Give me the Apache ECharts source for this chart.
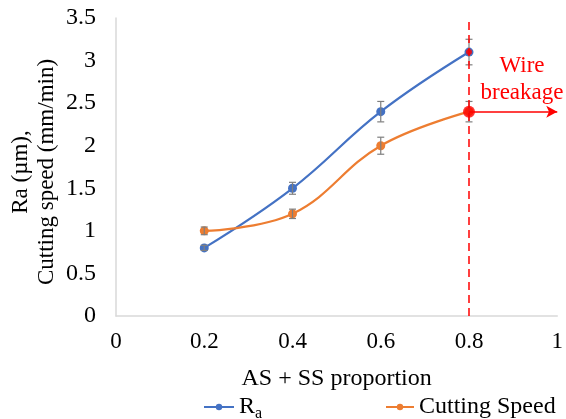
<!DOCTYPE html>
<html>
<head>
<meta charset="utf-8">
<script src="https://cdn.jsdelivr.net/npm/echarts@6/dist/echarts.min.js"></script>
<style>
  html, body { margin: 0; padding: 0; background: #fff; }
  #chart { width: 566px; height: 419px; }
</style>
</head>
<body>
<div id="chart"></div>
<script>
var proportions = [0.2, 0.4, 0.6, 0.8];
var raValues = [0.8, 1.5, 2.4, 3.1];
var raErrors = [0.03, 0.07, 0.12, 0.15];
var speedValues = [1.0, 1.2, 2.0, 2.4];
var speedErrors = [0.045, 0.055, 0.1, 0.12];
var breakIndex = 3;

var font = '"Liberation Serif", "Times New Roman", serif';
var chart = echarts.init(document.getElementById('chart'));

function pairs(vals) {
    return proportions.map(function (x, i) { return [x, vals[i]]; });
}
function errData(vals, errs) {
    return proportions.map(function (x, i) { return [x, vals[i] - errs[i], vals[i] + errs[i]]; });
}
function renderError(params, api) {
    var lo = api.coord([api.value(0), api.value(1)]);
    var hi = api.coord([api.value(0), api.value(2)]);
    var w = 3.5;
    var st = { stroke: '#7f7f7f', lineWidth: 1.2 };
    return {
        type: 'group',
        children: [
            { type: 'line', shape: { x1: lo[0], y1: lo[1], x2: hi[0], y2: hi[1] }, style: st },
            { type: 'line', shape: { x1: lo[0] - w, y1: lo[1], x2: lo[0] + w, y2: lo[1] }, style: st },
            { type: 'line', shape: { x1: hi[0] - w, y1: hi[1], x2: hi[0] + w, y2: hi[1] }, style: st }
        ]
    };
}

var legendText = { fontFamily: font, fontSize: 24, color: '#000' };

var option = {
    animation: false,
    textStyle: { fontFamily: font },
    grid: { left: 116, right: 8, top: 18, bottom: 103 },
    legend: [{
        left: 198, top: 390,
        itemWidth: 30, itemHeight: 8,
        data: ['Ra'],
        formatter: function () { return 'R{sub|a}'; },
        textStyle: {
            fontFamily: font, fontSize: 24, color: '#000',
            rich: { sub: { fontFamily: font, fontSize: 16, color: '#000', verticalAlign: 'bottom', padding: [14, 0, 0, 0] } }
        }
    }, {
        left: 380, top: 390,
        itemWidth: 28, itemHeight: 8,
        data: ['Cutting Speed'],
        textStyle: legendText
    }],
    xAxis: {
        type: 'value',
        min: 0, max: 1, interval: 0.2,
        name: 'AS + SS proportion',
        nameLocation: 'middle',
        nameGap: 51,
        nameTextStyle: { fontFamily: font, fontSize: 24, color: '#000' },
        axisLine: { lineStyle: { color: '#d9d9d9', width: 1.5 } },
        axisTick: { show: false },
        splitLine: { show: false },
        axisLabel: {
            fontFamily: font, fontSize: 23, color: '#000', margin: 14,
            formatter: function (v) { return String(+v.toFixed(1)); }
        }
    },
    yAxis: {
        type: 'value',
        min: 0, max: 3.5, interval: 0.5,
        axisLine: { show: true, lineStyle: { color: '#d9d9d9', width: 1.5 } },
        axisTick: { show: false },
        splitLine: { show: false },
        axisLabel: { fontFamily: font, fontSize: 24, color: '#000', margin: 20 }
    },
    graphic: [{
        type: 'text',
        x: 34,
        y: 172,
        rotation: Math.PI / 2,
        style: {
            text: 'Ra (µm),\nCutting speed (mm/min)',
            font: '23px ' + font,
            fill: '#000',
            align: 'center',
            verticalAlign: 'middle',
            lineHeight: 26
        }
    }, {
        type: 'text',
        x: 522,
        y: 52,
        style: {
            text: 'Wire\nbreakage',
            font: '23px ' + font,
            fill: '#ff0000',
            align: 'center',
            verticalAlign: 'top',
            lineHeight: 27
        }
    }],
    series: [
        {
            name: 'Ra',
            type: 'line',
            smooth: 0.4,
            data: pairs(raValues),
            symbol: 'circle',
            symbolSize: 9,
            itemStyle: { color: '#4472c4' },
            lineStyle: { color: '#4472c4', width: 2.2 },
            z: 3
        },
        {
            name: 'Cutting Speed',
            type: 'line',
            smooth: 0.4,
            data: pairs(speedValues),
            symbol: 'circle',
            symbolSize: 9,
            itemStyle: { color: '#ed7d31' },
            lineStyle: { color: '#ed7d31', width: 2.2 },
            z: 3,
            markLine: {
                silent: true,
                label: { show: false },
                lineStyle: { color: '#ff0000', width: 1.5, type: 'solid' },
                data: [[
                    { coord: [proportions[breakIndex], speedValues[breakIndex]], symbol: 'none' },
                    { coord: [1, speedValues[breakIndex]], symbol: 'arrow', symbolSize: [9, 11] }
                ]]
            }
        },
        {
            name: 'dash',
            type: 'line',
            data: [],
            markLine: {
                silent: true,
                symbol: 'none',
                label: { show: false },
                lineStyle: { color: '#ff0000', type: [8, 5], width: 1.5 },
                data: [{ xAxis: proportions[breakIndex] }]
            }
        },
        {
            type: 'custom',
            renderItem: renderError,
            data: errData(raValues, raErrors),
            encode: { x: 0, y: [1, 2] },
            z: 4
        },
        {
            type: 'custom',
            renderItem: renderError,
            data: errData(speedValues, speedErrors),
            encode: { x: 0, y: [1, 2] },
            z: 4
        },
        {
            type: 'scatter',
            data: [
                { value: [proportions[breakIndex], raValues[breakIndex]], symbolSize: 6 },
                { value: [proportions[breakIndex], speedValues[breakIndex]], symbolSize: 12 }
            ],
            itemStyle: { color: '#ff0000' },
            z: 5
        }
    ]
};
chart.setOption(option);
</script>
</body>
</html>
